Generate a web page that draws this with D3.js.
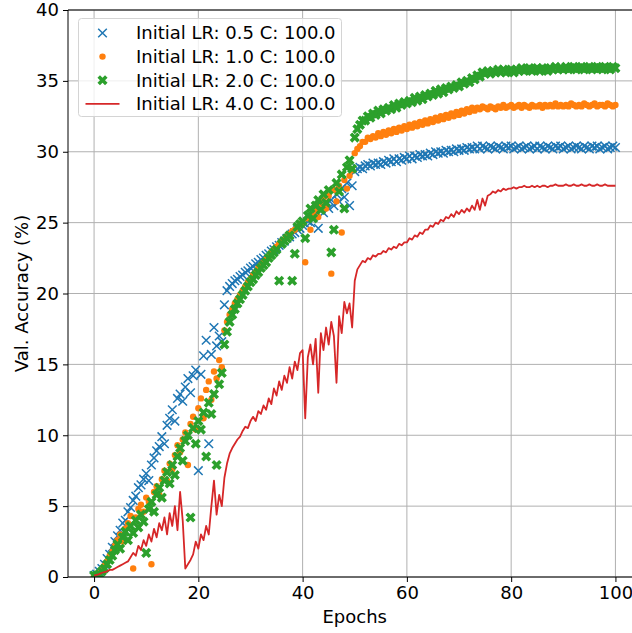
<!DOCTYPE html>
<html lang="en">
	<head>
		<meta charset="utf-8">
		<title>Val. accuracy vs epochs</title>
		<script type="text/javascript" src="https://d3js.org/d3.v7.min.js"></script>
		<style type="text/css">
		body{
			margin: 0;
			background-color: #ffffff;
		}
		svg{
			display: block;
			font-family: "DejaVu Sans", sans-serif;
		}
		</style>
	</head>
	<body>
		<div id="chart"></div>
		<script type="text/javascript">

			// evaluation every half epoch
			var epochStep = 0.5;

			var lr05 = [
				0.1, 0.2, 0.4, 0.6, 0.9, 1.3, 1.6, 2.1, 2.5, 2.9,
				3.3, 3.8, 4.0, 4.6, 4.9, 5.4, 5.7, 6.3, 6.5, 6.9,
				7.3, 6.8, 7.9, 8.4, 8.9, 9.2, 9.9, 9.4, 10.7, 11.2,
				11.8, 11.0, 12.6, 12.9, 12.4, 13.4, 14.0, 13.0, 14.2, 14.6,
				7.5, 14.3, 15.6, 16.7, 9.4, 15.7, 17.6, 16.3, 17.0, 16.6,
				19.2, 20.2, 20.5, 20.7, 20.9, 21.0, 21.2, 21.3, 21.5, 21.6,
				21.8, 21.9, 22.1, 22.2, 22.4, 22.5, 22.7, 22.8, 23.0, 23.1,
				23.3, 23.4, 23.6, 23.7, 23.9, 24.0, 24.2, 24.3, 24.5, 24.6,
				24.8, 24.9, 25.1, 25.0, 25.4, 25.6, 24.6, 25.9, 25.7, 26.3,
				26.0, 26.6, 26.2, 27.0, 26.5, 27.4, 26.8, 27.8, 26.2, 27.6,
				28.6, 28.8, 28.9, 28.8, 29.0, 29.1, 29.0, 29.2, 29.1, 29.2,
				29.1, 29.3, 29.2, 29.4, 29.3, 29.5, 29.3, 29.5, 29.4, 29.6,
				29.5, 29.7, 29.5, 29.7, 29.6, 29.8, 29.7, 29.8, 29.7, 29.9,
				29.8, 30.0, 29.9, 30.0, 29.9, 30.1, 30.0, 30.1, 30.0, 30.2,
				30.1, 30.2, 30.1, 30.3, 30.2, 30.3, 30.2, 30.4, 30.2, 30.4,
				30.3, 30.2, 30.4, 30.3, 30.2, 30.4, 30.3, 30.2, 30.4, 30.3,
				30.4, 30.2, 30.3, 30.4, 30.2, 30.3, 30.4, 30.2, 30.3, 30.4,
				30.2, 30.4, 30.3, 30.2, 30.4, 30.3, 30.2, 30.4, 30.3, 30.4,
				30.2, 30.3, 30.4, 30.2, 30.3, 30.4, 30.3, 30.2, 30.4, 30.3,
				30.2, 30.4, 30.3, 30.4, 30.2, 30.3, 30.4, 30.2, 30.3, 30.4,
				30.3
			];

			var lr10 = [
				0.1, 0.1, 0.3, 0.5, 0.8, 1.1, 1.5, 1.8, 2.2, 2.6,
				3.0, 2.5, 3.4, 3.8, 4.3, 0.6, 4.2, 4.8, 5.1, 4.6,
				5.6, 5.3, 0.9, 6.0, 6.4, 5.8, 6.9, 7.5, 6.8, 8.0,
				7.6, 8.6, 9.3, 8.8, 9.7, 10.2, 7.9, 10.8, 11.3, 10.4,
				11.9, 12.6, 11.2, 13.2, 13.8, 12.5, 14.5, 14.0, 15.3, 14.8,
				17.4, 18.0, 18.5, 18.9, 19.3, 19.6, 19.9, 20.2, 20.5, 20.8,
				21.0, 21.3, 21.5, 21.8, 22.0, 22.2, 22.4, 22.6, 22.9, 23.1,
				23.3, 23.5, 23.7, 23.8, 24.0, 24.2, 24.4, 24.5, 24.7, 24.9,
				25.0, 22.2, 25.3, 24.5, 25.6, 25.9, 25.4, 26.2, 26.6, 26.0,
				26.9, 21.4, 27.3, 26.5, 27.6, 24.3, 28.0, 27.4, 28.3, 28.7,
				29.9, 30.2, 30.4, 30.7, 30.7, 31.0, 30.9, 31.1, 31.0, 31.3,
				31.1, 31.4, 31.2, 31.5, 31.3, 31.6, 31.4, 31.7, 31.5, 31.8,
				31.6, 31.9, 31.7, 32.0, 31.8, 32.1, 31.9, 32.2, 32.0, 32.3,
				32.1, 32.4, 32.2, 32.5, 32.3, 32.6, 32.4, 32.7, 32.5, 32.8,
				32.6, 32.9, 32.7, 33.0, 32.8, 33.1, 32.9, 33.1, 33.0, 33.2,
				33.1, 33.0, 33.2, 33.1, 33.0, 33.2, 33.1, 33.3, 33.1, 33.2,
				33.3, 33.1, 33.2, 33.3, 33.1, 33.3, 33.2, 33.1, 33.3, 33.2,
				33.2, 33.3, 33.1, 33.3, 33.2, 33.3, 33.2, 33.4, 33.2, 33.3,
				33.2, 33.3, 33.2, 33.4, 33.3, 33.2, 33.3, 33.2, 33.4, 33.3,
				33.2, 33.3, 33.4, 33.2, 33.3, 33.3, 33.2, 33.4, 33.3, 33.2,
				33.3
			];

			var lr20 = [
				0.1, 0.1, 0.2, 0.4, 0.6, 0.9, 1.2, 1.5, 1.9, 2.3,
				2.0, 2.8, 3.2, 2.6, 3.6, 3.1, 4.0, 3.5, 4.4, 3.9,
				1.7, 4.8, 5.3, 4.6, 5.8, 6.3, 5.6, 6.8, 7.4, 6.6,
				7.9, 7.2, 8.5, 9.1, 8.2, 9.6, 10.0, 4.2, 10.5, 9.4,
				11.0, 10.4, 11.6, 8.5, 12.3, 11.5, 12.9, 7.9, 13.6, 14.4,
				16.4, 17.3, 18.0, 18.5, 18.9, 19.3, 19.6, 19.9, 20.2, 20.5,
				20.8, 21.0, 21.3, 21.5, 21.8, 22.0, 22.2, 22.5, 22.7, 22.9,
				23.1, 20.9, 23.5, 23.7, 23.9, 24.1, 20.9, 22.8, 24.7, 24.9,
				25.1, 23.9, 25.5, 26.0, 25.3, 26.2, 26.6, 25.9, 27.0, 26.4,
				27.3, 22.9, 24.5, 27.8, 27.2, 28.4, 26.0, 28.9, 29.4, 28.8,
				31.0, 31.6, 31.9, 32.2, 32.2, 32.5, 32.4, 32.7, 32.6, 32.9,
				32.7, 33.0, 32.9, 33.1, 33.0, 33.3, 33.1, 33.4, 33.3, 33.5,
				33.4, 33.6, 33.5, 33.8, 33.6, 33.9, 33.7, 34.0, 33.9, 34.1,
				34.0, 34.3, 34.1, 34.4, 34.2, 34.5, 34.4, 34.6, 34.5, 34.7,
				34.6, 34.9, 34.8, 35.0, 34.9, 35.2, 35.1, 35.4, 35.3, 35.6,
				35.5, 35.7, 35.5, 35.7, 35.6, 35.8, 35.6, 35.8, 35.6, 35.7,
				35.8, 35.6, 35.8, 35.7, 35.9, 35.7, 35.8, 35.9, 35.7, 35.8,
				35.9, 35.7, 35.9, 35.8, 35.7, 35.9, 35.8, 36.0, 35.8, 35.9,
				35.8, 36.0, 35.8, 35.9, 36.0, 35.8, 35.9, 36.0, 35.8, 35.9,
				36.0, 35.8, 35.9, 36.0, 35.9, 35.8, 36.0, 35.9, 35.8, 36.0,
				35.9
			];

			var lr40 = [
				0.1, 0.15, 0.2, 0.3, 0.35, 0.4, 0.5, 0.5, 0.6, 0.7,
				0.8, 0.9, 1.0, 1.1, 1.4, 1.7, 1.5, 2.2, 1.9, 2.6,
				2.2, 3.0, 2.5, 3.4, 2.8, 3.8, 3.3, 4.2, 3.0, 4.5,
				3.6, 5.0, 3.3, 6.0, 4.0, 0.6, 0.9, 1.2, 1.6, 2.5,
				2.0, 3.0, 2.6, 3.6, 3.0, 5.0, 6.8, 4.4, 5.8, 5.0,
				7.0, 8.0, 8.7, 9.1, 9.4, 9.7, 9.9, 10.3, 10.6, 10.5,
				11.0, 11.3, 11.0, 11.7, 11.5, 12.1, 11.8, 12.6, 12.2, 13.3,
				12.8, 13.8, 13.2, 14.2, 13.7, 14.8, 14.0, 15.2, 14.6, 15.8,
				16.0, 11.2, 15.5, 16.4, 15.0, 16.8, 13.0, 17.2, 16.0, 17.6,
				16.4, 18.0, 17.0, 13.7, 18.4, 17.2, 19.4, 18.6, 19.3, 17.6,
				20.9, 21.7, 22.0, 22.3, 22.2, 22.5, 22.4, 22.7, 22.6, 22.8,
				22.8, 23.0, 22.9, 23.2, 23.1, 23.3, 23.2, 23.5, 23.4, 23.6,
				23.6, 23.9, 23.8, 24.1, 24.0, 24.3, 24.2, 24.5, 24.5, 24.8,
				24.7, 25.0, 24.9, 25.2, 25.1, 25.4, 25.3, 25.6, 25.4, 25.8,
				25.6, 25.9, 25.7, 26.0, 25.8, 26.2, 25.9, 26.6, 25.9, 26.7,
				26.2, 26.9, 27.0, 27.2, 27.1, 27.3, 27.2, 27.4, 27.3, 27.4,
				27.4, 27.5, 27.4, 27.5, 27.5, 27.6, 27.5, 27.5, 27.6, 27.5,
				27.6, 27.5, 27.6, 27.6, 27.5, 27.6, 27.6, 27.7, 27.6, 27.6,
				27.6, 27.7, 27.6, 27.6, 27.7, 27.6, 27.6, 27.7, 27.6, 27.6,
				27.7, 27.6, 27.6, 27.7, 27.6, 27.6, 27.7, 27.6, 27.6, 27.6,
				27.6
			];

			var legendLabels = ["Initial LR: 0.5 C: 100.0", "Initial LR: 1.0 C: 100.0",
								"Initial LR: 2.0 C: 100.0", "Initial LR: 4.0 C: 100.0"];
			var xTicks = [0, 20, 40, 60, 80, 100];
			var yTicks = [0, 5, 10, 15, 20, 25, 30, 35, 40];

			var colors = ["#1f77b4", "#ff7f0e", "#2ca02c", "#d62728"];

			//size and margins (window.top is reserved, so plot* names)
			var w = 632;
			var h = 633;
			var plotL = 68, plotT = 10, plotB = 577;
			var plotR = 641.5;   // figure is cut off before the right spine
			var fs = "18px";

			var x = d3.scaleLinear().domain([-5, 105]).range([plotL, plotR]);
			var y = d3.scaleLinear().domain([0, 40]).range([plotB, plotT]);

			var svg = d3.select("#chart")
						.append("svg")
						.attr("width", w)
						.attr("height", h);

			svg.append("clipPath").attr("id", "plotclip")
			   .append("rect")
			   .attr("x", plotL).attr("y", plotT)
			   .attr("width", plotR - plotL).attr("height", plotB - plotT);

			//grid
			svg.append("g")
			   .selectAll("line")
			   .data(xTicks)
			   .enter()
			   .append("line")
			   .attr("x1", function(d) { return x(d); })
			   .attr("x2", function(d) { return x(d); })
			   .attr("y1", plotT).attr("y2", plotB)
			   .attr("stroke", "#b0b0b0").attr("stroke-width", 1);

			svg.append("g")
			   .selectAll("line")
			   .data(yTicks)
			   .enter()
			   .append("line")
			   .attr("x1", plotL).attr("x2", plotR)
			   .attr("y1", function(d) { return y(d); })
			   .attr("y2", function(d) { return y(d); })
			   .attr("stroke", "#b0b0b0").attr("stroke-width", 1);

			var plot = svg.append("g").attr("clip-path", "url(#plotclip)");

			function pts(series) {
				return series.map(function(v, i) { return [i * epochStep, v]; });
			}

			//LR 0.5: x markers
			var xMark = "M-4.3,-4.3L4.3,4.3M-4.3,4.3L4.3,-4.3";
			plot.append("g")
			   .selectAll("path")
			   .data(pts(lr05))
			   .enter()
			   .append("path")
			   .attr("d", xMark)
			   .attr("transform", function(d) { return "translate(" + x(d[0]) + "," + y(d[1]) + ")"; })
			   .attr("fill", "none")
			   .attr("stroke", colors[0])
			   .attr("stroke-width", 1.5);

			//LR 1.0: dots
			plot.append("g")
			   .selectAll("circle")
			   .data(pts(lr10))
			   .enter()
			   .append("circle")
			   .attr("cx", function(d) { return x(d[0]); })
			   .attr("cy", function(d) { return y(d[1]); })
			   .attr("r", 3.2)
			   .attr("fill", colors[1]);

			//LR 2.0: filled X
			var bigX = d3.symbol().type(d3.symbolCross).size(64);
			plot.append("g")
			   .selectAll("path")
			   .data(pts(lr20))
			   .enter()
			   .append("path")
			   .attr("d", bigX)
			   .attr("transform", function(d) { return "translate(" + x(d[0]) + "," + y(d[1]) + ") rotate(45)"; })
			   .attr("fill", colors[2]);

			//LR 4.0: line
			plot.append("path")
			   .datum(pts(lr40))
			   .attr("d", d3.line()
			   		.x(function(d) { return x(d[0]); })
			   		.y(function(d) { return y(d[1]); }))
			   .attr("fill", "none")
			   .attr("stroke", colors[3])
			   .attr("stroke-width", 1.8)
			   .attr("stroke-linejoin", "round");

			//axes
			var xAxis = d3.axisBottom(x).tickValues(xTicks).tickSize(5).tickPadding(4);
			var yAxis = d3.axisLeft(y).tickValues(yTicks).tickSize(5).tickPadding(4);

			var gx = svg.append("g").attr("transform", "translate(0," + plotB + ")").call(xAxis);
			var gy = svg.append("g").attr("transform", "translate(" + plotL + ",0)").call(yAxis);

			[gx, gy].forEach(function(g) {
				g.select(".domain").remove();
				g.selectAll("line").attr("stroke", "#000").attr("stroke-width", 1);
				g.selectAll("text")
				 .attr("font-family", "DejaVu Sans, sans-serif")
				 .attr("font-size", fs)
				 .attr("fill", "#000");
			});

			//spines
			svg.append("line").attr("x1", plotL).attr("x2", plotL).attr("y1", plotT).attr("y2", plotB)
			   .attr("stroke", "#000").attr("stroke-width", 1);
			svg.append("line").attr("x1", plotL).attr("x2", w).attr("y1", plotB).attr("y2", plotB)
			   .attr("stroke", "#000").attr("stroke-width", 1);
			svg.append("line").attr("x1", plotL).attr("x2", w).attr("y1", plotT).attr("y2", plotT)
			   .attr("stroke", "#000").attr("stroke-width", 1);

			//axis labels
			svg.append("text")
			   .text("Epochs")
			   .attr("x", (plotL + plotR) / 2)
			   .attr("y", 623)
			   .attr("text-anchor", "middle")
			   .attr("font-size", fs)
			   .attr("fill", "#000");

			svg.append("text")
			   .text("Val. Accuracy (%)")
			   .attr("transform", "translate(28," + ((plotT + plotB) / 2) + ") rotate(-90)")
			   .attr("text-anchor", "middle")
			   .attr("font-size", fs)
			   .attr("fill", "#000");

			//legend
			var lg = svg.append("g");
			lg.append("rect")
			  .attr("x", 78.5).attr("y", 18.5)
			  .attr("width", 263).attr("height", 98)
			  .attr("rx", 3)
			  .attr("fill", "#fff").attr("fill-opacity", 0.8)
			  .attr("stroke", "#d4d4d4").attr("stroke-width", 1);

			var rowY = function(i) { return 33 + i * 23.6; };
			var hx = 102.5;

			lg.append("path").attr("d", xMark)
			  .attr("transform", "translate(" + hx + "," + rowY(0) + ")")
			  .attr("fill", "none").attr("stroke", colors[0]).attr("stroke-width", 1.5);
			lg.append("circle").attr("cx", hx).attr("cy", rowY(1)).attr("r", 3.2).attr("fill", colors[1]);
			lg.append("path").attr("d", bigX)
			  .attr("transform", "translate(" + hx + "," + rowY(2) + ") rotate(45)")
			  .attr("fill", colors[2]);
			lg.append("line").attr("x1", hx - 17).attr("x2", hx + 17)
			  .attr("y1", rowY(3)).attr("y2", rowY(3))
			  .attr("stroke", colors[3]).attr("stroke-width", 1.8);

			lg.selectAll("text")
			  .data(legendLabels)
			  .enter()
			  .append("text")
			  .text(function(d) { return d; })
			  .attr("x", 136)
			  .attr("y", function(d, i) { return rowY(i); })
			  .attr("dy", "0.35em")
			  .attr("font-size", fs)
			  .attr("fill", "#000");

		</script>
	</body>
</html>
